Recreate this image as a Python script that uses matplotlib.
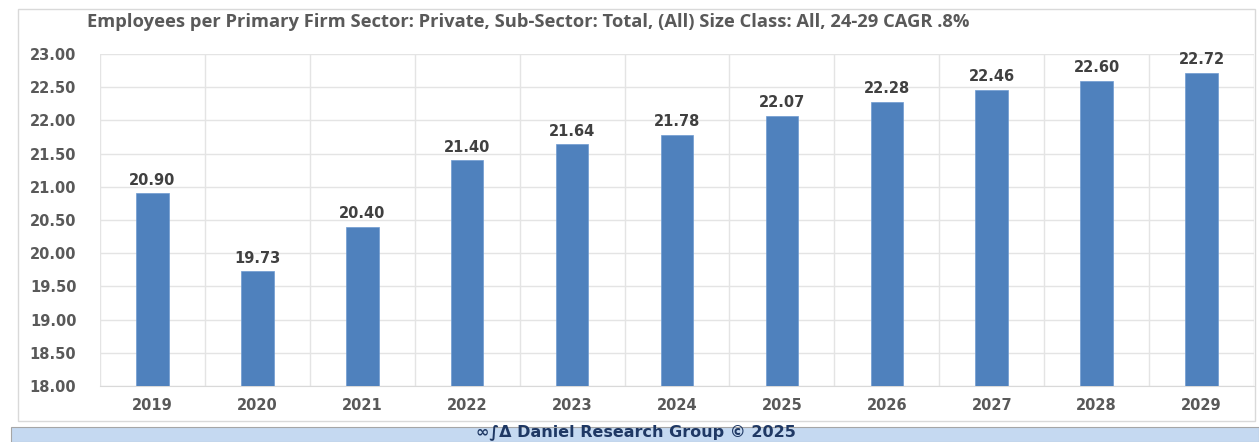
import matplotlib
matplotlib.use("Agg")
import matplotlib.pyplot as plt
from matplotlib.patches import Rectangle

years = ["2019", "2020", "2021", "2022", "2023", "2024", "2025", "2026", "2027", "2028", "2029"]
values = [20.90, 19.73, 20.40, 21.40, 21.64, 21.78, 22.07, 22.28, 22.46, 22.60, 22.72]
yticks = [18.00, 18.50, 19.00, 19.50, 20.00, 20.50, 21.00, 21.50, 22.00, 22.50, 23.00]
title = "Employees per Primary Firm Sector: Private, Sub-Sector: Total, (All) Size Class: All, 24-29 CAGR .8%"
footer = "\u221e\u222b\u0394 Daniel Research Group \u00a9 2025"

plt.rcParams['font.family'] = ['DejaVu Sans']

W, H = 1259, 442
fig = plt.figure(figsize=(W / 100, H / 100), dpi=100)
fig.patch.set_facecolor("white")

# outer chart border
fig.patches.append(Rectangle((18 / W, 1 - 421 / H), (1255 - 18) / W, (421 - 9) / H,
                             transform=fig.transFigure, fill=False, edgecolor="#D9D9D9", lw=1))
# footer band
fig.patches.append(Rectangle((11 / W, 0), (W - 11) / W, (H - 427) / H,
                             transform=fig.transFigure, facecolor="#C5D9F1", edgecolor="#A6A6A6", lw=0.8))
fig.text(636 / W, 2 / H, footer, ha="center", va="bottom", fontsize=11.5,
         fontweight="bold", color="#1F3864")

ax = fig.add_axes([100 / W, 1 - 386 / H, (1254 - 100) / W, (386 - 54) / H])
x = list(range(len(years)))
ax.bar(x, values, width=0.31, color="#4F81BD", edgecolor="#6F9BD1", lw=0.5, zorder=3)
ax.set_xlim(-0.5, len(years) - 0.5)
ax.set_ylim(18, 23)
ax.set_yticks(yticks)
ax.set_yticklabels([f"{v:.2f}" for v in yticks], fontsize=10.5, fontweight="bold", color="#595959")
ax.set_xticks(x)
ax.set_xticklabels(years, fontsize=10.5, fontweight="bold", color="#595959")
ax.set_xticks([i - 0.5 for i in range(len(years) + 1)], minor=True)
ax.tick_params(axis="both", which="both", length=0)
ax.tick_params(axis="x", pad=9)
ax.tick_params(axis="y", pad=17)
ax.grid(axis="y", which="major", color="#E4E4E4", lw=1, zorder=0)
ax.grid(axis="x", which="minor", color="#E4E4E4", lw=1, zorder=0)
ax.grid(axis="x", which="major", visible=False)
for s in ["top", "right", "left"]:
    ax.spines[s].set_visible(False)
ax.spines["bottom"].set_color("#D9D9D9")

for xi, v in zip(x, values):
    ax.annotate(f"{v:.2f}", (xi, v), xytext=(0, 4), textcoords="offset points",
                ha="center", va="bottom", fontsize=10.5, fontweight="bold", color="#404040")

fig.text(87 / W, 1 - 22 / H, title, ha="left", va="center", fontsize=13.2,
         fontweight="bold", color="#595959", family=['Open Sans', 'DejaVu Sans'])

fig.savefig("out.png", dpi=100)
